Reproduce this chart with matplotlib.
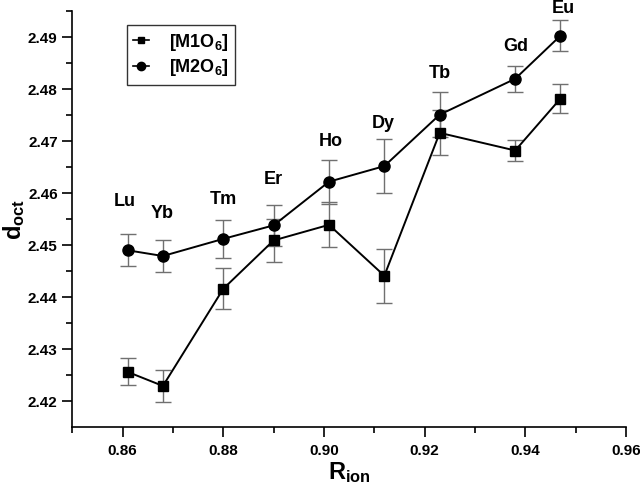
import matplotlib
matplotlib.use('Agg')
import matplotlib.pyplot as plt
from matplotlib.lines import Line2D

plt.rcParams['font.family'] = 'Liberation Sans'
plt.rcParams['font.weight'] = 'bold'
plt.rcParams['mathtext.fontset'] = 'custom'
plt.rcParams['mathtext.rm'] = 'Liberation Sans:bold'
plt.rcParams['mathtext.bf'] = 'Liberation Sans:bold'
plt.rcParams['mathtext.it'] = 'Liberation Sans:bold'
plt.rcParams['mathtext.default'] = 'bf'

# datos
elementos = ['Lu', 'Yb', 'Tm', 'Er', 'Ho', 'Dy', 'Tb', 'Gd', 'Eu']
r_ion = [0.861, 0.868, 0.880, 0.890, 0.901, 0.912, 0.923, 0.938, 0.947]
m1o6 = [2.4256, 2.4229, 2.4416, 2.4509, 2.4539, 2.4441, 2.4716, 2.4682, 2.4782]
m1o6_err = [0.0026, 0.0031, 0.0039, 0.0042, 0.0043, 0.0052, 0.0043, 0.0020, 0.0028]
m2o6 = [2.4490, 2.4479, 2.4512, 2.4538, 2.4622, 2.4652, 2.4751, 2.4820, 2.4903]
m2o6_err = [0.0031, 0.0031, 0.0037, 0.0040, 0.0042, 0.0052, 0.0043, 0.0025, 0.0030]

# posiciones de las etiquetas de cada elemento
etiqueta_x = [0.8604, 0.8678, 0.8800, 0.8900, 0.9014, 0.9118, 0.9230, 0.9382, 0.9476]
etiqueta_y = [2.4584, 2.4561, 2.4588, 2.4626, 2.4699, 2.4734, 2.4831, 2.4883, 2.4956]

fig = plt.figure(figsize=(6.4, 4.88), dpi=100)
ax = fig.add_axes([0.113, 0.125, 0.865, 0.852])

ax.errorbar(r_ion, m1o6, yerr=m1o6_err, fmt='none', ecolor='#707070',
            elinewidth=1, capsize=5.5, capthick=1, zorder=2)
ax.errorbar(r_ion, m2o6, yerr=m2o6_err, fmt='none', ecolor='#707070',
            elinewidth=1, capsize=5.5, capthick=1, zorder=2)
ax.plot(r_ion, m1o6, color='black', marker='s', markersize=7, linewidth=1.4, zorder=3)
ax.plot(r_ion, m2o6, color='black', marker='o', markersize=8, linewidth=1.4, zorder=3)

for e, x, y in zip(elementos, etiqueta_x, etiqueta_y):
    ax.text(x, y, e, ha='center', va='center', fontsize=13, fontweight='bold',
            clip_on=False)

ax.set_xlim(0.85, 0.96)
ax.set_ylim(2.415, 2.495)
ax.set_xticks([0.86, 0.88, 0.90, 0.92, 0.94, 0.96])
ax.set_xticks([0.85, 0.87, 0.89, 0.91, 0.93, 0.95], minor=True)
ax.set_yticks([2.42, 2.43, 2.44, 2.45, 2.46, 2.47, 2.48, 2.49])
ax.set_yticks([2.425, 2.435, 2.445, 2.455, 2.465, 2.475, 2.485, 2.495], minor=True)
ax.set_xticklabels(['0.86', '0.88', '0.90', '0.92', '0.94', '0.96'])
ax.set_yticklabels(['2.42', '2.43', '2.44', '2.45', '2.46', '2.47', '2.48', '2.49'])

ax.spines['top'].set_visible(False)
ax.spines['right'].set_visible(False)
ax.spines['left'].set_linewidth(1.2)
ax.spines['bottom'].set_linewidth(1.2)
ax.tick_params(which='major', direction='out', length=7, width=1.2, labelsize=11)
ax.tick_params(axis='x', which='major', pad=5)
ax.tick_params(which='minor', direction='out', length=4, width=1.2)

ax.set_xlabel('R$_{ion}$', fontsize=17, fontweight='bold', labelpad=2)
ax.set_ylabel('d$_{oct}$', fontsize=17, fontweight='bold', labelpad=1)

# leyenda con marcadores pequenos como en la original
manejadores = [
    Line2D([], [], color='black', marker='s', markersize=5, linewidth=1.2),
    Line2D([], [], color='black', marker='o', markersize=6, linewidth=1.2),
]
leg = ax.legend(manejadores, ['[M1O$_6$]', '[M2O$_6$]'], loc='upper left',
                bbox_to_anchor=(0.098, 0.966), fontsize=13,
                frameon=True, fancybox=False, edgecolor='black',
                handlelength=0.9, handletextpad=1.1, borderpad=0.35,
                labelspacing=0.25, borderaxespad=0)
leg.get_frame().set_linewidth(1.0)

plt.savefig('out.png', dpi=100)
